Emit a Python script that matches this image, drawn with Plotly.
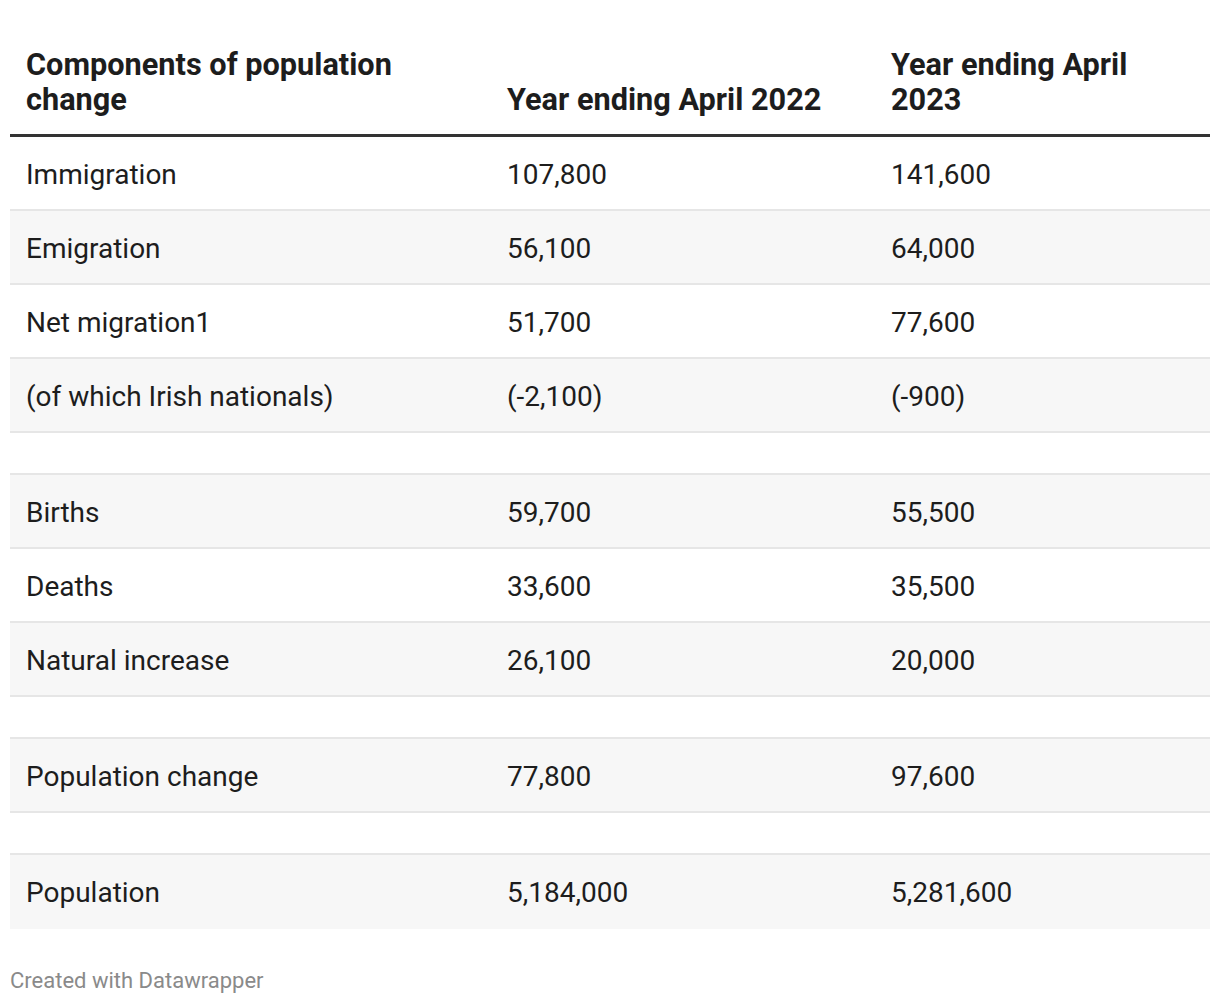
import plotly.graph_objects as go

# ---- data ----
headers = [["Components of population", "change"],
           ["Year ending April 2022"],
           ["Year ending April", "2023"]]
components = ["Immigration", "Emigration", "Net migration1", "(of which Irish nationals)", "",
              "Births", "Deaths", "Natural increase", "", "Population change", "", "Population"]
year_2022 = ["107,800", "56,100", "51,700", "(-2,100)", "",
             "59,700", "33,600", "26,100", "", "77,800", "", "5,184,000"]
year_2023 = ["141,600", "64,000", "77,600", "(-900)", "",
             "55,500", "35,500", "20,000", "", "97,600", "", "5,281,600"]
footer = "Created with Datawrapper"

# ---- layout constants ----
W, H = 1220, 1004
TABLE_L, TABLE_R = 10, 1210
COL_X = [27, 508, 892]
PAD_SHIFT = -3          # compensate annotation inner padding
HEADER_LAST_LINE = 99
HEADER_LINE_GAP = 35
HEADER_BOTTOM = 134
ROW_H, SPACER_H = 74, 42
FONT = "Roboto, 'Noto Sans', sans-serif"
TEXT_COLOR = "#1d1d1d"
STRIPE = "#f7f7f7"
BORDER = "#e6e6e6"

fig = go.Figure()
shapes = []
annotations = []

# header line
shapes.append(dict(type="line", xref="x", yref="y", x0=TABLE_L, x1=TABLE_R,
                   y0=HEADER_BOTTOM + 1.5, y1=HEADER_BOTTOM + 1.5,
                   line=dict(color="#333333", width=3), layer="above"))

# header text (bottom aligned)
for i, lines in enumerate(headers):
    k = len(lines)
    for li, line in enumerate(lines):
        cy = HEADER_LAST_LINE - (k - 1 - li) * HEADER_LINE_GAP
        annotations.append(dict(x=COL_X[i], y=cy, xref="x", yref="y", xshift=PAD_SHIFT,
                                text="<b>" + line + "</b>", showarrow=False,
                                xanchor="left", yanchor="middle", align="left",
                                font=dict(family=FONT, size=30.7, color=TEXT_COLOR)))

# rows
top = HEADER_BOTTOM + 3
n = len(components)
for i in range(n):
    spacer = components[i] == "" and year_2022[i] == "" and year_2023[i] == ""
    h = SPACER_H if spacer else ROW_H
    bottom = top + h
    if i % 2 == 1:
        shapes.append(dict(type="rect", xref="x", yref="y", x0=TABLE_L, x1=TABLE_R,
                           y0=top, y1=bottom, fillcolor=STRIPE, line=dict(width=0),
                           layer="below"))
    if i < n - 1:
        shapes.append(dict(type="line", xref="x", yref="y", x0=TABLE_L, x1=TABLE_R,
                           y0=bottom - 1, y1=bottom - 1,
                           line=dict(color=BORDER, width=2), layer="below"))
    if not spacer:
        cy = (top + bottom) / 2
        for j, val in enumerate([components[i], year_2022[i], year_2023[i]]):
            annotations.append(dict(x=COL_X[j], y=cy, xref="x", yref="y", xshift=PAD_SHIFT,
                                    text=val, showarrow=False,
                                    xanchor="left", yanchor="middle",
                                    font=dict(family=FONT, size=28, color=TEXT_COLOR)))
    top = bottom

# footer
annotations.append(dict(x=TABLE_L, y=980, xref="x", yref="y", xshift=-2, text=footer,
                        showarrow=False, xanchor="left", yanchor="middle",
                        font=dict(family=FONT, size=22, color="#8a8a8a")))

fig.add_trace(go.Scatter(x=[0], y=[0], mode="markers", marker=dict(opacity=0),
                         hoverinfo="skip", showlegend=False))

fig.update_layout(
    width=W, height=H,
    margin=dict(l=0, r=0, t=0, b=0),
    paper_bgcolor="white", plot_bgcolor="white",
    xaxis=dict(range=[0, W], visible=False, fixedrange=True),
    yaxis=dict(range=[H, 0], visible=False, fixedrange=True),
    shapes=shapes, annotations=annotations,
    showlegend=False,
)

fig.write_html("out.html", config={"displayModeBar": False},
               post_script="document.body.style.margin='0';document.body.style.overflow='hidden';")
